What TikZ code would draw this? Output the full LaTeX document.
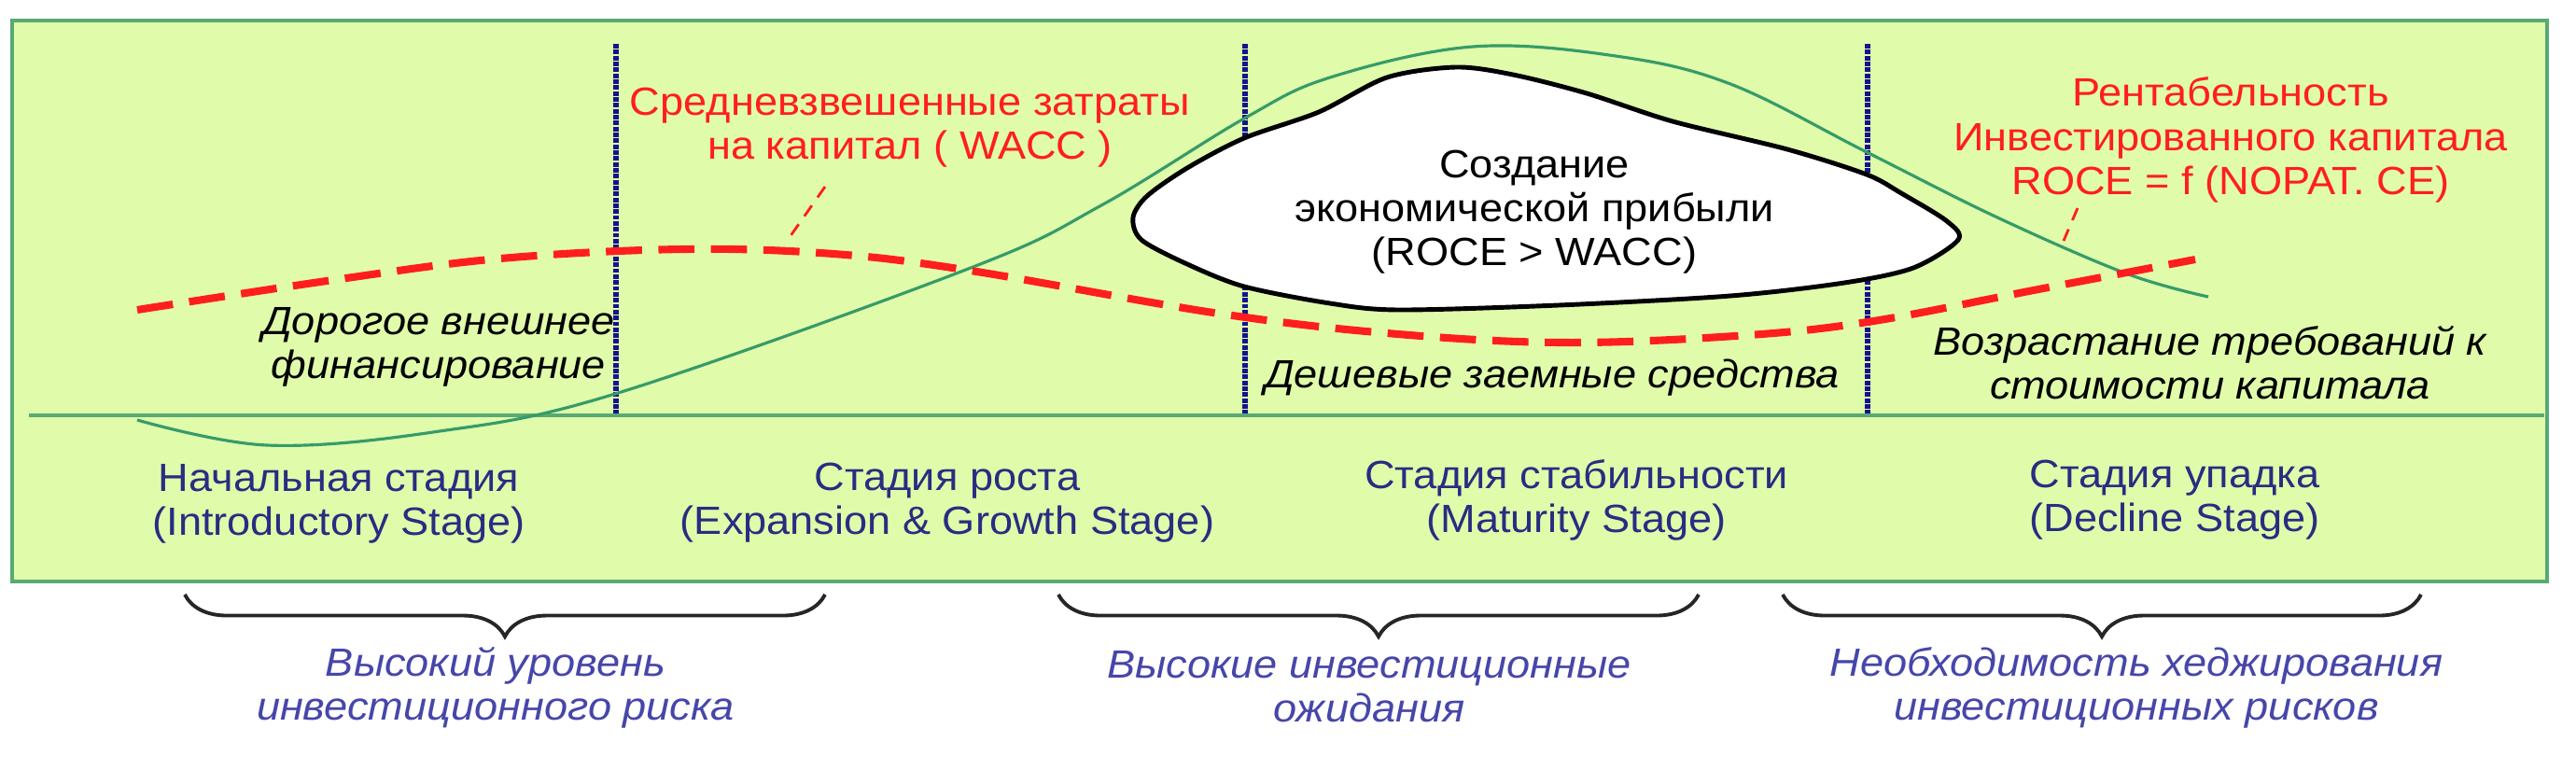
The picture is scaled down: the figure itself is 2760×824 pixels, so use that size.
\documentclass[tikz,border=0pt]{standalone}
\usepackage{fontspec}
\setmainfont{Liberation Sans}[FakeStretch=1.07]
\usetikzlibrary{decorations.pathreplacing}

\definecolor{bgfill}{RGB}{224,252,170}
\definecolor{framegreen}{RGB}{88,170,115}
\definecolor{rocegreen}{RGB}{55,155,105}
\definecolor{waccred}{RGB}{255,30,30}
\definecolor{dividerblue}{RGB}{20,20,140}
\definecolor{stageblue}{RGB}{40,45,130}
\definecolor{noteblue}{RGB}{70,70,170}

\begin{document}
\begin{tikzpicture}[x=0.01cm, y=-0.01cm, >=stealth,
    txt/.style={align=center, inner sep=0pt, font=\fontsize{12}{13.4}\selectfont},
    redtxt/.style={txt, text=waccred},
    notetxt/.style={txt, font=\fontsize{12}{13.4}\selectfont\itshape},
    stagetxt/.style={txt, text=stageblue},
    risktxt/.style={notetxt, text=noteblue},
    divider/.style={dividerblue, line width=1.6pt, dash pattern=on 1.4pt off 0.4pt},
    leader/.style={waccred, line width=0.8pt, dash pattern=on 4pt off 3pt},
    stagebrace/.style={decorate, decoration={brace, mirror, amplitude=0.45cm}, line width=1.1pt, black!85}]
    \useasboundingbox (0,0) rectangle (2760,824);

    % Fondo
    \draw[framegreen, line width=1.1pt, fill=bgfill] (13,22) rectangle (2729,623);

    % Confini delle stadi
    \foreach \xx in {660,1334,2001}
        \draw[divider] (\xx,47) -- (\xx,445);
    \draw[framegreen, line width=1.4pt] (31,445) -- (2726,445);

    % ROCE
    \draw[rocegreen, line width=0.9pt] plot[smooth, tension=0.6] coordinates {(147,450) (286,477) (464,463) (659,422) (1040,287) (1180,220) (1333,127) (1425,83) (1578,50) (1731,60) (1854,90) (2000,163) (2140,233) (2278,293) (2366,318)};

    % WACC
    \draw[waccred, line width=2.3pt, dash pattern=on 11pt off 5pt] plot[smooth, tension=0.6] coordinates {(147,332) (357,300) (536,277) (732,267) (893,272) (1040,290) (1300,335) (1486,357) (1672,367) (1859,360) (2001,345) (2184,310) (2352,278)};

    % Prибыль
    \draw[black, line width=1.4pt, fill=white] plot[smooth cycle, tension=0.5] coordinates {(1214,233) (1229,210) (1272,180) (1333,148) (1413,120) (1486,83) (1560,72) (1621,80) (1700,100) (1792,130) (1915,160) (2000,187) (2037,207) (2086,237) (2098,257) (2050,287) (1976,303) (1854,317) (1670,327) (1498,332) (1425,325) (1333,307) (1272,283) (1223,257)};
    \node[txt] (profit) at (1644,227) {Создание\\экономической прибыли\\(ROCE > WACC)};

    % Testi in alto
    \node[redtxt] (wacc) at (975,137) {Средневзвешенные затраты\\на капитал ( WACC )};
    \node[redtxt] (roce) at (2390,150) {Рентабельность\\Инвестированного капитала\\ROCE = f (NOPAT. CE)};
    \coordinate (wacctop) at (884,200);
    \coordinate (waccend) at (844,257);
    \coordinate (rocetop) at (2226,223);
    \coordinate (roceend) at (2211,258);
    \draw[leader] (wacctop) -- (waccend);
    \draw[leader] (rocetop) -- (roceend);

    \node[notetxt] (dear) at (470,372) {Дорогое внешнее\\финансирование};
    \node[notetxt] (cheap) at (1663,405) {Дешевые заемные средства};
    \node[notetxt] (grow) at (2368,389) {Возрастание требований к\\стоимости капитала};

    % Stadi
    \node[stagetxt] (intro) at (363,540) {Начальная стадия\\(Introductory Stage)};
    \node[stagetxt] (growth) at (1015,539) {Стадия роста\\(Expansion \& Growth Stage)};
    \node[stagetxt] (mature) at (1689,536) {Стадия стабильности\\(Maturity Stage)};
    \node[stagetxt] (decline) at (2330,536) {Стадия упадка\\(Decline Stage)};

    % Graffe
    \coordinate (br1a) at (198,637);
    \coordinate (br1b) at (884,637);
    \coordinate (br2a) at (1134,637);
    \coordinate (br2b) at (1820,637);
    \coordinate (br3a) at (1910,637);
    \coordinate (br3b) at (2594,637);
    \draw[stagebrace] (br1a) -- (br1b);
    \draw[stagebrace] (br2a) -- (br2b);
    \draw[stagebrace] (br3a) -- (br3b);
    \node[risktxt] (risk) at (531,737) {Высокий уровень\\инвестиционного риска};
    \node[risktxt] (expect) at (1467,736) {Высокие инвестиционные\\ожидания};
    \node[risktxt] (hedge) at (2289,737) {Необходимость хеджирования\\инвестиционных рисков};
\end{tikzpicture}
\end{document}
